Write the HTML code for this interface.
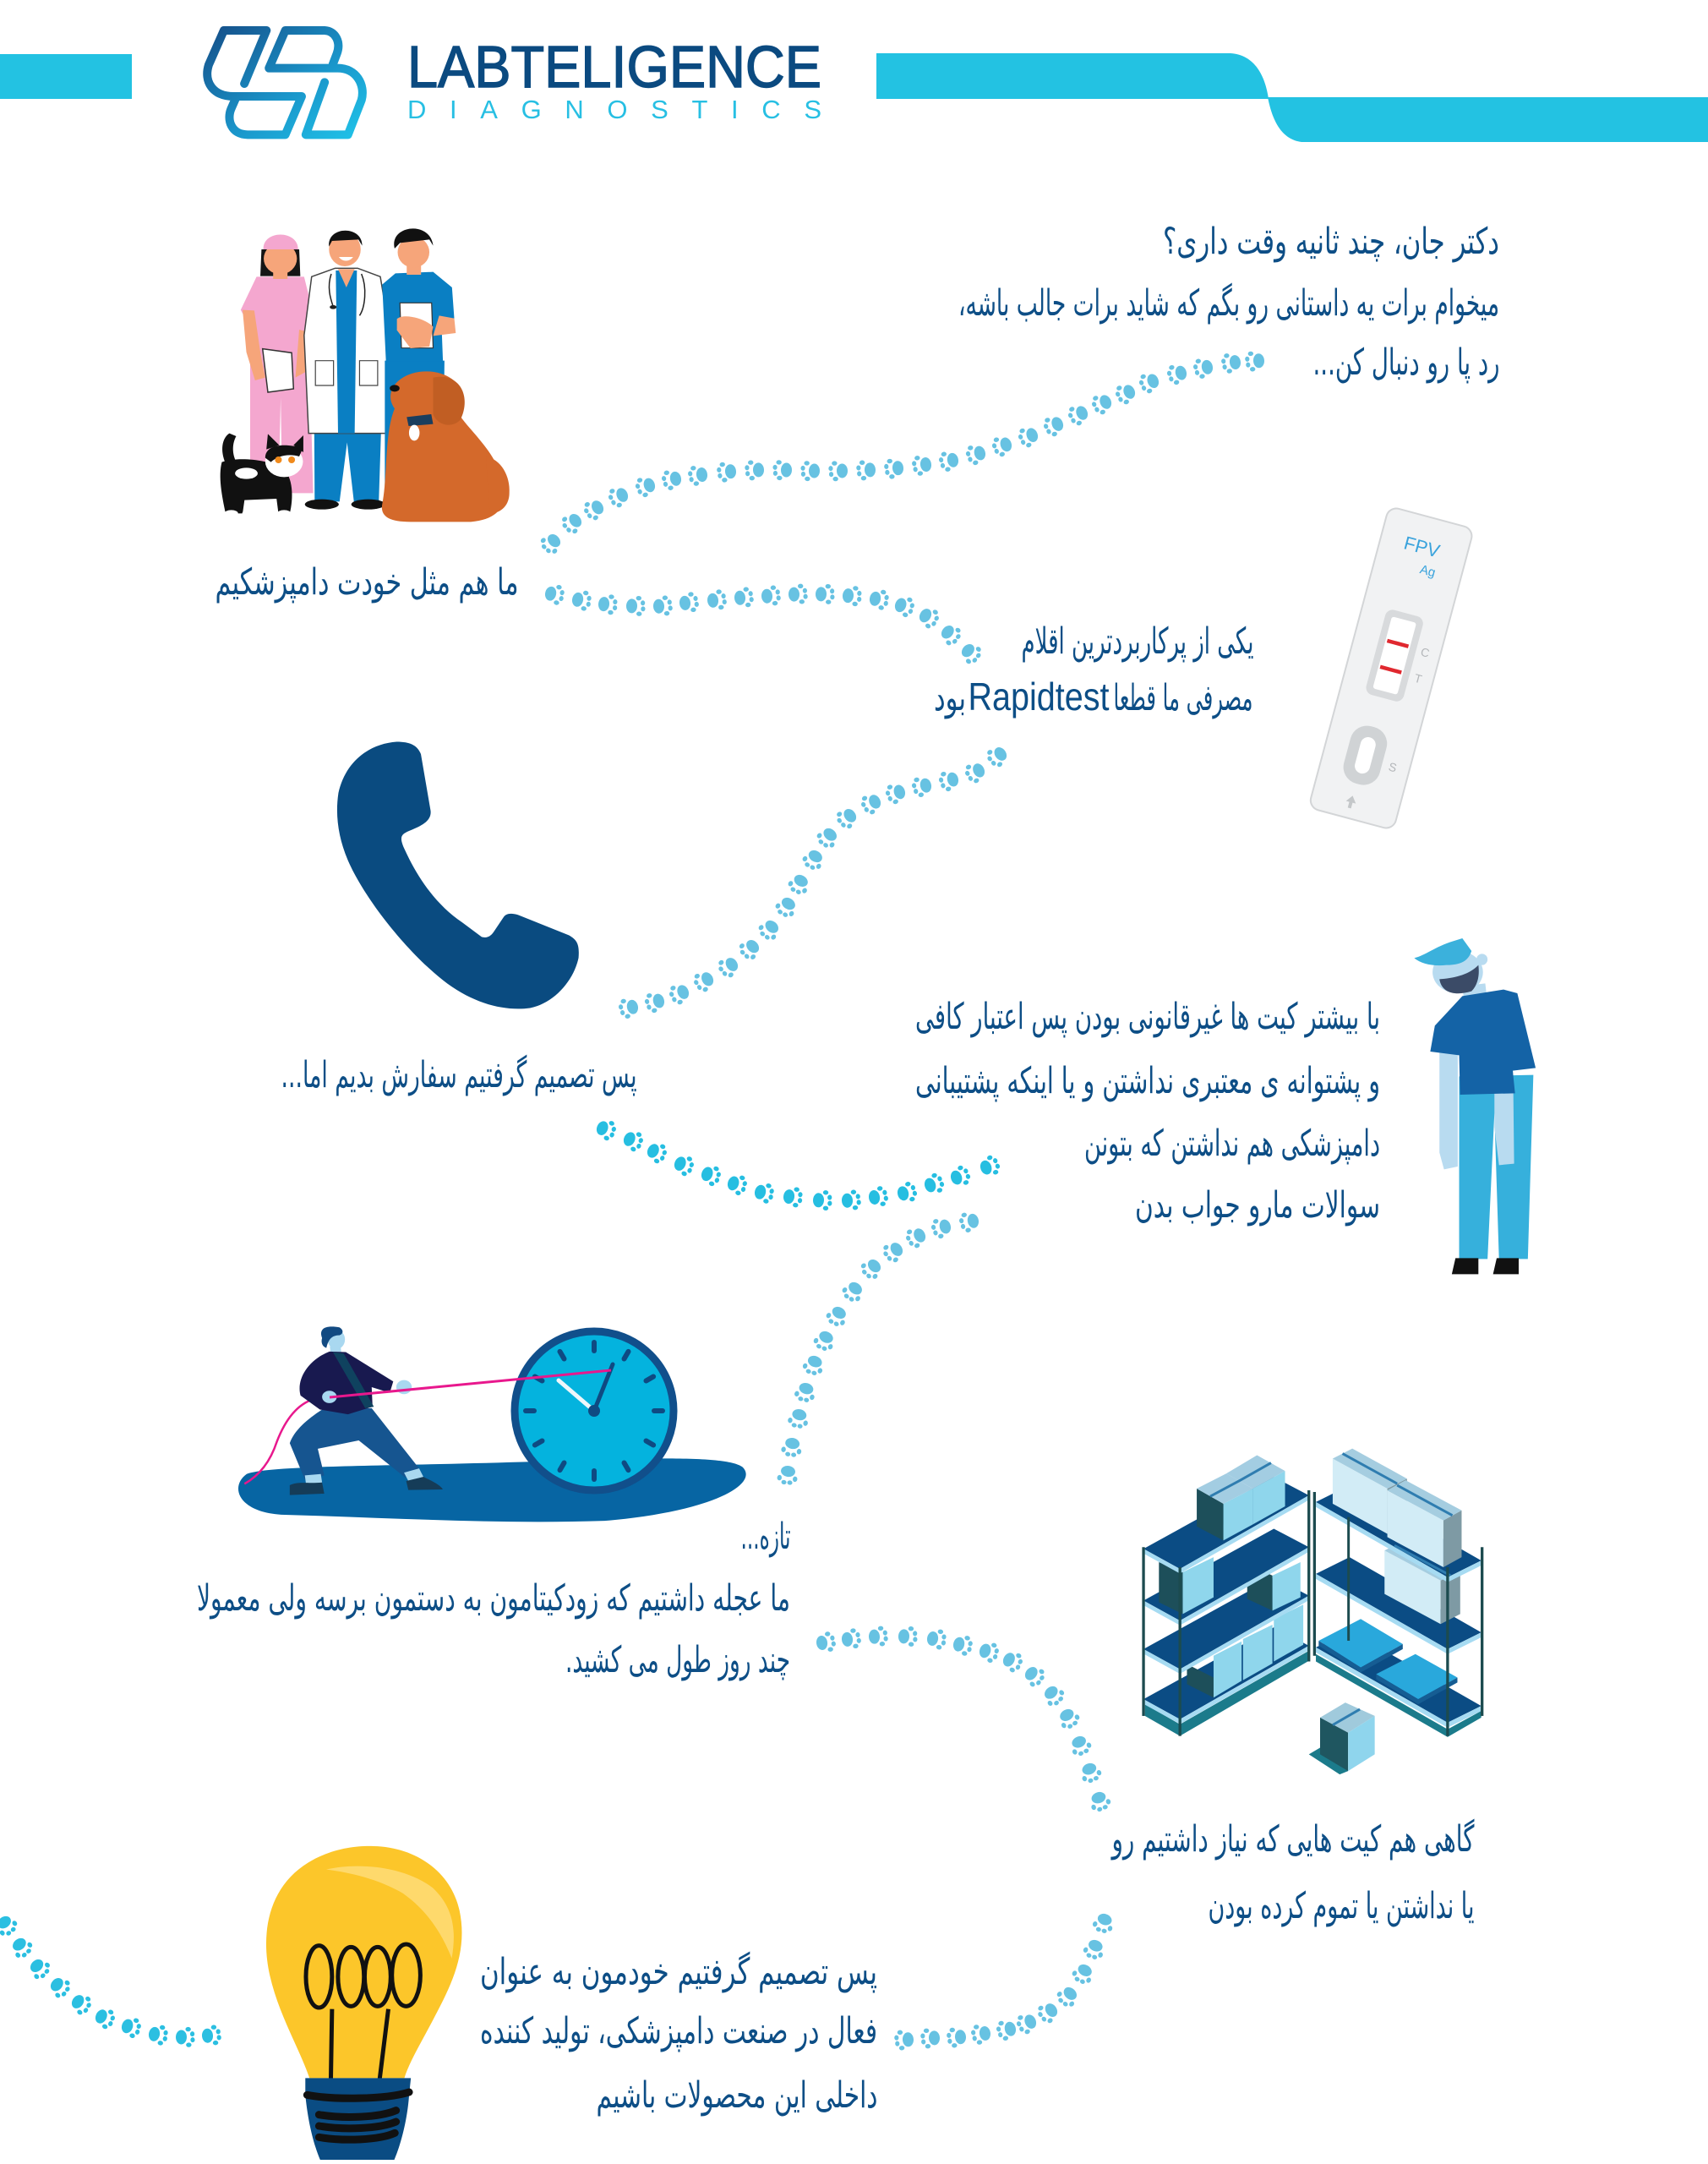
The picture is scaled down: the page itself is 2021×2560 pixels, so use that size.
<!DOCTYPE html>
<html><head><meta charset="utf-8">
<style>
html,body{margin:0;padding:0;background:#fff;}
body{width:2021px;height:2560px;overflow:hidden;}
svg{display:block;}
.fa{font-family:"DejaVu Sans",sans-serif;font-size:43px;fill:#0d4e86;direction:rtl;}
</style></head><body>
<svg width="2021" height="2560" viewBox="0 0 2021 2560" xmlns="http://www.w3.org/2000/svg">
<defs>
<g id="p"><ellipse cx="0" cy="3.5" rx="8.5" ry="6.5"/><ellipse cx="-9.5" cy="-4.5" rx="2.7" ry="3.2"/><ellipse cx="-4" cy="-9.5" rx="3" ry="2.6"/><ellipse cx="3" cy="-10" rx="3" ry="2.6"/><ellipse cx="9" cy="-5.5" rx="2.7" ry="3.2"/></g>
<linearGradient id="lg" gradientUnits="userSpaceOnUse" x1="20" y1="40" x2="420" y2="430"><stop offset="0" stop-color="#154d87"/><stop offset="0.55" stop-color="#1a94c9"/><stop offset="1" stop-color="#20c5ea"/></linearGradient>
</defs>
<rect width="2021" height="2560" fill="#fff"/>

<!-- header bars -->
<rect x="0" y="64" width="156" height="53" fill="#23c2e2"/>
<path d="M1037,63 L1456,63 C1485,65 1497,90 1501,117 L1037,117 Z" fill="#23c2e2"/>
<path d="M1500,115 L2021,115 L2021,168 L1540,168 C1515,165 1505,140 1500,115 Z" fill="#23c2e2"/>

<!-- logo icon -->
<svg x="230" y="20" width="760" height="160" viewBox="0 0 1568 480" preserveAspectRatio="none">
<g fill="none" stroke="url(#lg)" stroke-width="10" stroke-linejoin="round" stroke-linecap="round">
<path vector-effect="non-scaling-stroke" d="M122,237 L176,48 L72,48 L35,170 C22,230 45,282 95,282 L262,282 L222,418 L130,418 C90,418 78,365 90,325 L100,292"/>
<path vector-effect="non-scaling-stroke" d="M318,232 L272,418 L375,418 L408,295 C418,240 395,182 350,182 L182,182 L222,48 L318,48 C345,50 358,90 348,130 L338,168"/>
</g>
</svg>
<text x="727" y="103" font-family="Liberation Sans" font-size="70" fill="#0b4a80" stroke="#0b4a80" stroke-width="1.5" text-anchor="middle" textLength="490" lengthAdjust="spacingAndGlyphs">LABTELIGENCE</text>
<text x="727" y="140" font-family="Liberation Sans" font-size="31" fill="#27bfe3" text-anchor="middle" textLength="490" lengthAdjust="spacing">DIAGNOSTICS</text>

<!-- doctors -->
<svg x="200" y="230" width="700" height="520" viewBox="0 0 1568 1560" preserveAspectRatio="none">
<path d="M245,195 L345,195 L348,290 L242,290 Z" fill="#151515"/>
<path d="M215,555 L372,555 L382,1060 L300,1060 L296,720 L290,1060 L215,1060 Z" fill="#f4a7cf"/>
<path d="M232,292 L358,292 L378,400 L368,560 L220,560 L214,470 L190,410 Z" fill="#f4a7cf"/>
<path d="M195,410 L226,412 L242,560 L255,650 L228,660 L205,560 Z" fill="#f6a57a"/>
<path d="M345,480 L368,488 L362,630 L335,650 Z" fill="#f6a57a"/>
<path d="M248,548 L325,562 L330,690 L262,702 Z" fill="#fff" stroke="#333" stroke-width="1.5" vector-effect="non-scaling-stroke"/>
<rect x="276" y="265" width="38" height="35" fill="#f6a57a"/>
<ellipse cx="295" cy="228" rx="44" ry="55" fill="#f6a57a"/>
<path d="M250,195 C248,125 342,125 342,195 Z" fill="#f4a7cf"/>
<path d="M385,840 L562,840 L556,1090 L490,1090 L472,880 L452,1090 L386,1090 Z" fill="#0a7fc3"/>
<ellipse cx="405" cy="1100" rx="45" ry="18" fill="#111"/>
<ellipse cx="528" cy="1100" rx="45" ry="18" fill="#111"/>
<path d="M378,292 L440,262 L500,262 L560,292 L586,500 L578,848 L370,848 L358,500 Z" fill="#fff" stroke="#444" stroke-width="1.5" vector-effect="non-scaling-stroke"/>
<path d="M442,270 L498,270 L492,848 L448,848 Z" fill="#0a7fc3"/>
<path d="M448,265 L492,265 L470,330 Z" fill="#f6a57a"/>
<path d="M430,282 C418,330 428,370 435,398 M510,282 C525,330 520,400 505,430" fill="none" stroke="#222" stroke-width="1.5" vector-effect="non-scaling-stroke"/>
<ellipse cx="435" cy="400" rx="9" ry="7" fill="#222"/>
<rect x="388" y="590" width="48" height="88" fill="none" stroke="#444" stroke-width="1.2" vector-effect="non-scaling-stroke"/>
<rect x="505" y="590" width="48" height="88" fill="none" stroke="#444" stroke-width="1.2" vector-effect="non-scaling-stroke"/>
<ellipse cx="466" cy="195" rx="42" ry="60" fill="#f6a57a"/>
<path d="M424,185 C418,112 512,108 512,182 L502,160 L432,165 Z" fill="#111"/>
<path d="M450,222 C460,240 478,240 488,222 Z" fill="#fff"/>
<path d="M572,590 L730,590 L726,1082 L572,1082 Z" fill="#0a7fc3"/>
<path d="M600,280 L700,275 L750,330 L756,440 L722,452 L726,592 L575,592 L565,320 Z" fill="#0a7fc3"/>
<path d="M716,430 L756,440 L760,492 L700,502 Z" fill="#f6a57a"/>
<path d="M612,385 L696,385 L700,545 L616,545 Z" fill="#fff" stroke="#333" stroke-width="1.2" vector-effect="non-scaling-stroke"/>
<path d="M604,442 C622,420 680,440 700,470 L690,540 L640,546 L604,482 Z" fill="#f6a57a"/>
<rect x="630" y="250" width="38" height="35" fill="#f6a57a"/>
<ellipse cx="648" cy="205" rx="42" ry="55" fill="#f6a57a"/>
<path d="M598,192 C582,110 692,90 700,182 L690,160 L612,172 Z" fill="#111"/>
<path d="M598,760 C570,850 580,1000 565,1100 C560,1140 580,1162 640,1162 L800,1162 C880,1152 900,1100 880,1000 C860,900 780,820 760,760 Z" fill="#d4692b"/>
<path d="M840,930 C880,940 905,1000 902,1060 C902,1100 882,1132 850,1132 Z" fill="#d4692b"/>
<ellipse cx="682" cy="718" rx="95" ry="90" fill="#d4692b"/>
<path d="M700,650 C772,630 802,720 772,800 C752,830 712,822 700,780 Z" fill="#c15e23"/>
<ellipse cx="598" cy="688" rx="13" ry="12" fill="#111"/>
<path d="M630,790 L695,780 L700,815 L635,822 Z" fill="#1a3e5e"/>
<ellipse cx="650" cy="846" rx="14" ry="28" fill="#fff"/>
<path d="M150,955 C135,910 140,865 160,848 L178,858 C165,890 168,930 182,958 Z" fill="#111"/>
<path d="M140,950 C180,930 260,940 300,970 C330,1000 330,1080 320,1132 L290,1132 L285,1080 L200,1085 L195,1132 L150,1132 C140,1070 130,1000 140,950 Z" fill="#111"/>
<ellipse cx="205" cy="990" rx="30" ry="20" fill="#fff"/>
<ellipse cx="165" cy="1132" rx="18" ry="12" fill="#fff"/><ellipse cx="212" cy="1132" rx="18" ry="12" fill="#fff"/><ellipse cx="268" cy="1132" rx="18" ry="12" fill="#fff"/><ellipse cx="305" cy="1132" rx="18" ry="12" fill="#fff"/>
<ellipse cx="305" cy="948" rx="50" ry="55" fill="#fff"/>
<path d="M255,935 C255,890 300,880 355,900 L345,930 C320,920 290,925 270,950 Z" fill="#111"/>
<path d="M258,905 L262,850 L292,890 Z M330,890 L356,855 L356,915 Z" fill="#111"/>
<ellipse cx="290" cy="942" rx="9" ry="12" fill="#f08a1c"/><ellipse cx="325" cy="942" rx="9" ry="12" fill="#f08a1c"/>
</svg>

<!-- test strip -->
<g transform="translate(1646,791) rotate(15) translate(-52,-185)">
<rect x="0" y="0" width="104" height="369" rx="12" fill="#f1f2f3" stroke="#d3d5d7" stroke-width="2"/>
<text x="50" y="44" font-family="Liberation Sans" font-size="22" fill="#3aa3dc" text-anchor="middle">FPV</text>
<text x="64" y="67" font-family="Liberation Sans" font-size="15" fill="#3aa3dc" text-anchor="middle">Ag</text>
<rect x="29" y="117" width="46" height="104" rx="9" fill="#d8dadc"/>
<rect x="37" y="125" width="30" height="88" rx="3" fill="#fff"/>
<rect x="39" y="152" width="26" height="4.5" fill="#e0282f"/>
<rect x="39" y="184" width="26" height="4.5" fill="#e0282f"/>
<text x="86" y="161" font-family="Liberation Sans" font-size="14" fill="#b4b7ba" text-anchor="middle">C</text>
<text x="86" y="193" font-family="Liberation Sans" font-size="14" fill="#b4b7ba" text-anchor="middle">T</text>
<rect x="27" y="257" width="44" height="70" rx="20" fill="#d0d3d5"/>
<rect x="40" y="270" width="18" height="44" rx="9" fill="#fff"/>
<text x="84" y="302" font-family="Liberation Sans" font-size="14" fill="#b4b7ba" text-anchor="middle">S</text>
<path d="M47,342 L53,350 L49,350 L49,357 L45,357 L45,350 L41,350 Z" fill="#c4c7c9"/>
</g>

<!-- phone -->
<svg x="300" y="850" width="900" height="600" viewBox="0 0 1568 1568" preserveAspectRatio="none">
<path d="M295,72 C325,72 338,85 345,110 L365,285 C368,320 340,335 320,348 C305,358 300,365 310,400 C340,500 380,580 430,630 L470,675 C480,680 488,675 495,660 L515,615 C520,603 530,600 545,607 L650,670 C668,685 672,700 670,740 C660,810 620,880 570,895 C520,905 460,885 400,820 C320,730 230,560 195,440 C175,370 168,300 175,230 C190,130 240,78 295,72 Z" fill="#0a4b80"/>
</svg>

<!-- sad man -->
<svg x="1050" y="1100" width="850" height="420" viewBox="0 0 1568 1260" preserveAspectRatio="none">
<path d="M1248,520 L1410,515 L1398,1168 L1335,1168 L1325,650 L1310,1168 L1248,1168 Z" fill="#36b0dc"/>
<path d="M1240,1165 L1290,1165 L1290,1222 L1232,1222 Z" fill="#111"/>
<path d="M1330,1165 L1378,1165 L1378,1222 L1322,1222 Z" fill="#111"/>
<path d="M1205,430 L1245,430 L1245,840 L1215,850 L1205,790 Z" fill="#b8dbf0"/>
<path d="M1325,390 L1365,395 L1368,830 L1335,835 L1325,700 Z" fill="#b8dbf0"/>
<path d="M1255,200 L1305,190 L1310,260 L1260,270 Z" fill="#b8dbf0"/>
<path d="M1255,235 L1345,212 L1375,225 L1415,490 L1365,500 L1370,580 L1250,585 L1248,445 L1185,432 L1195,340 Z" fill="#1463a6"/>
<ellipse cx="1245" cy="150" rx="55" ry="75" fill="#b8dbf0"/>
<ellipse cx="1298" cy="105" rx="12" ry="20" fill="#b8dbf0"/>
<path d="M1205,175 C1210,225 1240,235 1275,218 C1292,190 1292,150 1290,125 C1270,160 1235,172 1205,175 Z" fill="#3b4b67"/>
<path d="M1150,100 C1175,90 1195,60 1235,40 L1255,30 L1275,75 C1270,100 1260,125 1220,125 C1190,130 1165,120 1150,100 Z" fill="#3bb1dc"/>
</svg>

<!-- clock scene -->
<svg x="200" y="1500" width="800" height="520" viewBox="0 0 1568 1568" preserveAspectRatio="none">
<path d="M180,735 C230,705 470,708 820,692 C1080,680 1290,665 1330,710 C1370,770 1260,870 1010,902 C760,915 500,890 260,880 C160,870 140,780 180,735 Z" fill="#0765a3"/>
<path d="M335,468 C290,490 265,560 250,620 C235,690 210,740 175,770" fill="none" stroke="#e8188d" stroke-width="2.5" vector-effect="non-scaling-stroke"/>
<path d="M355,505 L470,500 L580,715 L548,748 L440,615 L345,645 L360,740 L315,755 L280,625 C290,580 320,540 355,505 Z" fill="#165590"/>
<path d="M315,740 L352,735 L355,765 L318,775 Z M545,730 L580,715 L590,745 L555,760 Z" fill="#a9d8f0"/>
<path d="M280,775 C300,760 320,770 355,765 L360,805 L280,810 Z M550,760 L590,745 C610,760 630,775 635,790 L555,792 Z" fill="#153c58"/>
<path d="M373,280 L398,280 L400,310 L375,310 Z" fill="#a9d8f0"/>
<path d="M372,298 L410,300 L520,405 L512,445 L470,425 L472,495 L415,522 L350,505 L305,455 C295,400 320,330 372,298 Z" fill="#18194f"/>
<path d="M380,300 L405,305 L475,495 L455,500 Z" fill="#0f425f"/>
<ellipse cx="545" cy="425" rx="18" ry="25" fill="#a9d8f0"/>
<ellipse cx="372" cy="460" rx="17" ry="22" fill="#a9d8f0"/>
<ellipse cx="388" cy="255" rx="20" ry="35" fill="#a9d8f0"/>
<path d="M355,250 C345,210 370,205 395,212 C405,220 405,235 395,240 C380,240 370,250 365,285 C355,280 352,265 355,250 Z" fill="#124a82"/>
</svg>
<circle cx="703" cy="1669" r="94" fill="#04b3de" stroke="#114f8b" stroke-width="9"/>
<g transform="translate(703,1669)" stroke="#0f4a82" stroke-width="6" stroke-linecap="round">
<line x1="0" y1="-71" x2="0" y2="-81"/><line x1="35.5" y1="-61.5" x2="40.5" y2="-70.1"/><line x1="61.5" y1="-35.5" x2="70.1" y2="-40.5"/><line x1="71" y1="0" x2="81" y2="0"/><line x1="61.5" y1="35.5" x2="70.1" y2="40.5"/><line x1="35.5" y1="61.5" x2="40.5" y2="70.1"/><line x1="0" y1="71" x2="0" y2="81"/><line x1="-35.5" y1="61.5" x2="-40.5" y2="70.1"/><line x1="-61.5" y1="35.5" x2="-70.1" y2="40.5"/><line x1="-71" y1="0" x2="-81" y2="0"/><line x1="-61.5" y1="-35.5" x2="-70.1" y2="-40.5"/><line x1="-35.5" y1="-61.5" x2="-40.5" y2="-70.1"/>
<line x1="0" y1="0" x2="-42" y2="-36" stroke="#eef7fb" stroke-width="5"/>
<line x1="0" y1="0" x2="22" y2="-55" stroke-width="5"/>
<circle cx="0" cy="0" r="7" fill="#0f4a82" stroke="none"/>
</g>
<line x1="390" y1="1653" x2="723" y2="1621" stroke="#e8188d" stroke-width="3"/>

<!-- shelves -->
<svg x="1300" y="1680" width="520" height="620" viewBox="0 0 1568 1568" preserveAspectRatio="none">
<path d="M165,850 L290,910 L750,690 L750,720 L290,945 L165,885 Z" fill="#1b7b8b"/>
<path d="M775,700 L1245,925 L1365,870 L1365,890 L1245,948 L775,722 Z" fill="#1b7b8b"/>
<path d="M160,835 L290,895 L750,675 L625,620 Z" fill="#0b4c84"/>
<path d="M160,835 L290,895 L750,675 L750,689 L290,909 L160,849 Z" fill="#a6dbf2"/>
<path d="M315,730 L410,770 L410,830 L315,790 Z" fill="#1d4f5a"/>
<path d="M410,705 L510,662 L510,780 L410,830 Z" fill="#8fd6ec"/>
<path d="M515,655 L620,612 L620,728 L515,778 Z" fill="#8fd6ec"/>
<path d="M625,595 L730,552 L730,672 L625,722 Z" fill="#8fd6ec"/>
<path d="M160,685 L290,745 L750,525 L625,470 Z" fill="#0b4c84"/>
<path d="M160,685 L290,745 L750,525 L750,539 L290,759 L160,699 Z" fill="#a6dbf2"/>
<path d="M530,430 L620,465 L620,570 L530,535 Z" fill="#1d4f5a"/>
<path d="M620,465 L720,425 L720,530 L620,570 Z" fill="#8fd6ec"/>
<path d="M160,540 L290,600 L750,380 L625,325 Z" fill="#0b4c84"/>
<path d="M160,540 L290,600 L750,380 L750,394 L290,614 L160,554 Z" fill="#a6dbf2"/>
<path d="M215,425 L300,455 L300,580 L215,545 Z" fill="#1d4f5a"/>
<path d="M300,455 L410,410 L410,530 L300,580 Z" fill="#8fd6ec"/>
<path d="M160,385 L290,445 L750,225 L625,170 Z" fill="#0b4c84"/>
<path d="M160,385 L290,445 L750,225 L750,239 L290,459 L160,399 Z" fill="#a6dbf2"/>
<path d="M350,205 L445,250 L445,360 L350,318 Z" fill="#1d4f5a"/>
<path d="M445,250 L550,205 L550,312 L445,360 Z" fill="#8fd6ec"/>
<path d="M350,205 L455,160 L550,205 L445,250 Z" fill="#a3cde2"/>
<path d="M550,205 L665,152 L665,258 L550,312 Z" fill="#8fd6ec"/>
<path d="M455,160 L565,105 L665,152 L550,205 Z" fill="#a3cde2"/>
<path d="M398,228 L505,180 M505,180 L615,128" stroke="#2f7db0" stroke-width="3" vector-effect="non-scaling-stroke"/>
<rect x="155" y="380" width="10" height="505" fill="#1c4b4f"/>
<rect x="285" y="440" width="10" height="505" fill="#1c4b4f"/>
<rect x="745" y="210" width="10" height="512" fill="#1c4b4f"/>
<path d="M775,680 L895,630 L1365,855 L1245,905 Z" fill="#0b4c84"/>
<path d="M775,680 L1245,905 L1365,855 L1365,870 L1245,920 L775,695 Z" fill="#a6dbf2"/>
<path d="M785,660 L935,595 L1085,670 L935,740 Z" fill="#29a8dc"/>
<path d="M785,660 L935,740 L1085,670 L1085,685 L935,755 L785,675 Z" fill="#165d93"/>
<path d="M990,760 L1130,700 L1280,770 L1140,835 Z" fill="#29a8dc"/>
<path d="M990,760 L1140,835 L1280,770 L1280,785 L1140,850 L990,775 Z" fill="#165d93"/>
<path d="M775,460 L895,410 L1365,635 L1245,685 Z" fill="#0b4c84"/>
<path d="M775,460 L1245,685 L1365,635 L1365,650 L1245,700 L775,475 Z" fill="#a6dbf2"/>
<path d="M1020,520 L1220,610 L1220,480 L1020,390 Z" fill="#d2ecf6"/>
<path d="M1220,610 L1290,580 L1290,450 L1220,480 Z" fill="#7e9aa4"/>
<path d="M1020,390 L1220,480 L1290,450 L1090,360 Z" fill="#a5cde0"/>
<path d="M775,245 L895,195 L1365,420 L1245,470 Z" fill="#0b4c84"/>
<path d="M775,245 L1245,470 L1365,420 L1365,435 L1245,485 L775,260 Z" fill="#a6dbf2"/>
<path d="M835,250 L1030,340 L1030,205 L835,115 Z" fill="#d2ecf6"/>
<path d="M1030,340 L1100,310 L1100,175 L1030,205 Z" fill="#7e9aa4"/>
<path d="M835,115 L1030,205 L1100,175 L905,85 Z" fill="#a5cde0"/>
<path d="M1030,350 L1230,440 L1230,300 L1030,210 Z" fill="#d2ecf6"/>
<path d="M1230,440 L1295,410 L1295,270 L1230,300 Z" fill="#7e9aa4"/>
<path d="M1030,210 L1230,300 L1295,270 L1095,180 Z" fill="#a5cde0"/>
<path d="M870,100 L1065,190 M1065,195 L1262,285 M1055,375 L1255,465" stroke="#2f7db0" stroke-width="3" vector-effect="non-scaling-stroke"/>
<rect x="765" y="215" width="10" height="490" fill="#1c4b4f"/>
<rect x="887" y="290" width="9" height="370" fill="#1c4b4f"/>
<rect x="1240" y="440" width="10" height="505" fill="#1c4b4f"/>
<rect x="1363" y="380" width="10" height="505" fill="#1c4b4f"/>
<path d="M750,1000 L790,980 L890,1050 L860,1060 Z" fill="#1b7b8b"/>
<path d="M790,890 L880,845 L985,885 L890,935 Z" fill="#a0cadc"/>
<path d="M790,890 L890,935 L890,1050 L790,1000 Z" fill="#1f5660"/>
<path d="M890,935 L985,885 L985,1000 L890,1050 Z" fill="#8fd5ed"/>
<path d="M835,912 L932,865" stroke="#2f7db0" stroke-width="3" vector-effect="non-scaling-stroke"/>
</svg>

<!-- bulb -->
<svg x="0" y="2150" width="1100" height="410" viewBox="0 0 1568 1230" preserveAspectRatio="none">
<path d="M522,925 C505,820 470,700 455,560 C440,420 450,250 520,160 C560,110 600,100 630,102 C700,105 760,190 775,330 C790,480 760,600 730,720 C710,800 690,870 682,925 Z" fill="#fcc62a"/>
<path d="M550,185 C600,160 680,170 730,250 C765,320 770,400 762,500 C745,410 720,330 680,270 C640,220 590,195 550,185 Z" fill="#fed96c"/>
<g fill="none" stroke="#111" stroke-width="5">
<path vector-effect="non-scaling-stroke" d="M558,935 L560,680 M640,935 L655,680"/>
<ellipse vector-effect="non-scaling-stroke" cx="538" cy="565" rx="22" ry="110"/>
<ellipse vector-effect="non-scaling-stroke" cx="592" cy="565" rx="22" ry="105"/>
<ellipse vector-effect="non-scaling-stroke" cx="637" cy="565" rx="22" ry="105"/>
<ellipse vector-effect="non-scaling-stroke" cx="685" cy="560" rx="24" ry="110"/>
</g>
<path d="M515,925 L693,925 L690,985 C688,1050 680,1140 665,1215 L540,1215 C525,1140 518,1050 515,985 Z" fill="#0a4c83"/>
<g fill="none" stroke="#111" stroke-width="9" stroke-linecap="round">
<path vector-effect="non-scaling-stroke" d="M518,985 C560,1002 650,1002 690,975"/>
<path vector-effect="non-scaling-stroke" d="M538,1055 C580,1070 640,1065 668,1040"/>
<path vector-effect="non-scaling-stroke" d="M538,1095 C580,1110 640,1105 668,1080"/>
<path vector-effect="non-scaling-stroke" d="M538,1135 C580,1150 640,1145 666,1120"/>
</g>
</svg>

<!-- paw trails -->
<g class="trail" fill="#67c2e2">
<use href="#p" x="1486" y="427"/><use href="#p" x="1458" y="429"/><use href="#p" x="1425" y="435"/><use href="#p" x="1394" y="442"/><use href="#p" x="1361" y="452"/><use href="#p" x="1333" y="465"/><use href="#p" x="1305" y="477"/><use href="#p" x="1277" y="490"/><use href="#p" x="1248" y="503"/><use href="#p" x="1218" y="516"/><use href="#p" x="1187" y="527"/><use href="#p" x="1156" y="537"/><use href="#p" x="1124" y="545"/><use href="#p" x="1092" y="550"/><use href="#p" x="1059" y="554"/><use href="#p" x="1026" y="556"/><use href="#p" x="993" y="557"/><use href="#p" x="960" y="557"/><use href="#p" x="927" y="556"/><use href="#p" x="894" y="556"/><use href="#p" x="861" y="558"/><use href="#p" x="827" y="562"/><use href="#p" x="796" y="567"/><use href="#p" x="765" y="575"/><use href="#p" x="733" y="587"/><use href="#p" x="704" y="602"/><use href="#p" x="678" y="618"/><use href="#p" x="653" y="642"/>
</g>
<g class="trail" fill="#67c2e2">
<use href="#p" x="655" y="703"/><use href="#p" x="687" y="710"/><use href="#p" x="718" y="715"/><use href="#p" x="751" y="717"/><use href="#p" x="783" y="717"/><use href="#p" x="814" y="713"/><use href="#p" x="847" y="710"/><use href="#p" x="879" y="707"/><use href="#p" x="911" y="705"/><use href="#p" x="943" y="703"/><use href="#p" x="975" y="703"/><use href="#p" x="1007" y="705"/><use href="#p" x="1039" y="709"/><use href="#p" x="1069" y="717"/><use href="#p" x="1098" y="730"/><use href="#p" x="1124" y="750"/><use href="#p" x="1148" y="772"/>
</g>
<g class="trail" fill="#67c2e2">
<use href="#p" x="1181" y="894"/><use href="#p" x="1155" y="913"/><use href="#p" x="1124" y="923"/><use href="#p" x="1092" y="930"/><use href="#p" x="1061" y="938"/><use href="#p" x="1032" y="950"/><use href="#p" x="1003" y="967"/><use href="#p" x="980" y="990"/><use href="#p" x="963" y="1016"/><use href="#p" x="946" y="1045"/><use href="#p" x="931" y="1072"/><use href="#p" x="911" y="1099"/><use href="#p" x="888" y="1122"/><use href="#p" x="863" y="1143"/><use href="#p" x="834" y="1160"/><use href="#p" x="805" y="1175"/><use href="#p" x="776" y="1185"/><use href="#p" x="745" y="1192"/>
</g>
<g class="trail" fill="#26bee1">
<use href="#p" x="716" y="1336"/><use href="#p" x="748" y="1349"/><use href="#p" x="776" y="1363"/><use href="#p" x="808" y="1378"/><use href="#p" x="840" y="1390"/><use href="#p" x="871" y="1401"/><use href="#p" x="903" y="1411"/><use href="#p" x="937" y="1416"/><use href="#p" x="972" y="1420"/><use href="#p" x="1006" y="1420"/><use href="#p" x="1038" y="1416"/><use href="#p" x="1072" y="1411"/><use href="#p" x="1104" y="1401"/><use href="#p" x="1135" y="1392"/><use href="#p" x="1170" y="1380"/>
</g>
<g class="trail" fill="#67c2e2">
<use href="#p" x="1148" y="1445"/><use href="#p" x="1115" y="1452"/><use href="#p" x="1085" y="1463"/><use href="#p" x="1058" y="1480"/><use href="#p" x="1032" y="1500"/><use href="#p" x="1010" y="1527"/><use href="#p" x="991" y="1556"/><use href="#p" x="976" y="1585"/><use href="#p" x="963" y="1614"/><use href="#p" x="953" y="1646"/><use href="#p" x="945" y="1677"/><use href="#p" x="937" y="1711"/><use href="#p" x="932" y="1744"/>
</g>
<g class="trail" fill="#67c2e2">
<use href="#p" x="976" y="1943"/><use href="#p" x="1006" y="1939"/><use href="#p" x="1038" y="1936"/><use href="#p" x="1073" y="1936"/><use href="#p" x="1107" y="1939"/><use href="#p" x="1138" y="1946"/><use href="#p" x="1169" y="1954"/><use href="#p" x="1197" y="1965"/><use href="#p" x="1223" y="1982"/><use href="#p" x="1246" y="2005"/><use href="#p" x="1264" y="2032"/><use href="#p" x="1278" y="2064"/><use href="#p" x="1290" y="2096"/><use href="#p" x="1301" y="2130"/>
</g>
<g class="trail" fill="#67c2e2">
<use href="#p" x="1306" y="2274"/><use href="#p" x="1295" y="2305"/><use href="#p" x="1282" y="2334"/><use href="#p" x="1264" y="2361"/><use href="#p" x="1241" y="2380"/><use href="#p" x="1216" y="2393"/><use href="#p" x="1192" y="2401"/><use href="#p" x="1162" y="2406"/><use href="#p" x="1133" y="2410"/><use href="#p" x="1102" y="2411"/><use href="#p" x="1071" y="2413"/>
</g>
<g class="trail" fill="#2bbfe1">
<use href="#p" x="7" y="2277"/><use href="#p" x="25" y="2303"/><use href="#p" x="46" y="2328"/><use href="#p" x="70" y="2350"/><use href="#p" x="95" y="2370"/><use href="#p" x="123" y="2387"/><use href="#p" x="154" y="2398"/><use href="#p" x="186" y="2407"/><use href="#p" x="218" y="2410"/><use href="#p" x="249" y="2408"/>
</g>

<!-- texts -->
<text class="fa" x="1575" y="300" text-anchor="middle" textLength="398" lengthAdjust="spacingAndGlyphs">دکتر جان، چند ثانیه وقت داری؟</text>
<text class="fa" x="1454" y="373" text-anchor="middle" textLength="640" lengthAdjust="spacingAndGlyphs">میخوام برات یه داستانی رو بگم که شاید برات جالب باشه،</text>
<text class="fa" x="1664" y="443" text-anchor="middle" textLength="221" lengthAdjust="spacingAndGlyphs">رد پا رو دنبال کن...</text>
<text class="fa" x="434" y="703" text-anchor="middle" textLength="359" lengthAdjust="spacingAndGlyphs">ما هم مثل خودت دامپزشکیم</text>
<text class="fa" x="1346" y="773" text-anchor="middle" textLength="275" lengthAdjust="spacingAndGlyphs">یکی از پرکاربردترین اقلام</text>
<text class="fa" x="1400" y="840" text-anchor="middle" textLength="165" lengthAdjust="spacingAndGlyphs">مصرفی ما قطعا</text>
<text x="1229" y="840" font-family="Liberation Sans" font-size="46" fill="#0d4e86" text-anchor="middle" textLength="167" lengthAdjust="spacingAndGlyphs">Rapidtest</text>
<text class="fa" x="1124" y="840" text-anchor="middle" textLength="38" lengthAdjust="spacingAndGlyphs">بود</text>
<text class="fa" x="543" y="1286" text-anchor="middle" textLength="421" lengthAdjust="spacingAndGlyphs">پس تصمیم گرفتیم سفارش بدیم اما...</text>
<text class="fa" x="1358" y="1217" text-anchor="middle" textLength="550" lengthAdjust="spacingAndGlyphs">با بیشتر کیت ها غیرقانونی بودن پس اعتبار کافی</text>
<text class="fa" x="1358" y="1293" text-anchor="middle" textLength="550" lengthAdjust="spacingAndGlyphs">و پشتوانه ی معتبری نداشتن و یا اینکه پشتیبانی</text>
<text class="fa" x="1458" y="1367" text-anchor="middle" textLength="350" lengthAdjust="spacingAndGlyphs">دامپزشکی هم نداشتن که بتونن</text>
<text class="fa" x="1488" y="1440" text-anchor="middle" textLength="290" lengthAdjust="spacingAndGlyphs">سوالات مارو جواب بدن</text>
<text class="fa" x="906" y="1832" text-anchor="middle" textLength="59" lengthAdjust="spacingAndGlyphs">تازه...</text>
<text class="fa" x="584" y="1905" text-anchor="middle" textLength="702" lengthAdjust="spacingAndGlyphs">ما عجله داشتیم که زودکیتامون به دستمون برسه ولی معمولا</text>
<text class="fa" x="802" y="1978" text-anchor="middle" textLength="266" lengthAdjust="spacingAndGlyphs">چند روز طول می کشید.</text>
<text class="fa" x="1530" y="2190" text-anchor="middle" textLength="429" lengthAdjust="spacingAndGlyphs">گاهی هم کیت هایی که نیاز داشتیم رو</text>
<text class="fa" x="1587" y="2269" text-anchor="middle" textLength="315" lengthAdjust="spacingAndGlyphs">یا نداشتن یا تموم کرده بودن</text>
<text class="fa" x="803" y="2347" text-anchor="middle" textLength="470" lengthAdjust="spacingAndGlyphs">پس تصمیم گرفتیم خودمون به عنوان</text>
<text class="fa" x="803" y="2417" text-anchor="middle" textLength="470" lengthAdjust="spacingAndGlyphs">فعال در صنعت دامپزشکی، تولید کننده</text>
<text class="fa" x="872" y="2493" text-anchor="middle" textLength="333" lengthAdjust="spacingAndGlyphs">داخلی این محصولات باشیم</text>
</svg>
<script>
document.querySelectorAll('g.trail').forEach(function(g){
  var u=Array.prototype.slice.call(g.querySelectorAll('use'));
  var pts=u.map(function(e){return [+e.getAttribute('x'),+e.getAttribute('y')];});
  u.forEach(function(e,i){
    var a=pts[Math.max(0,i-1)],b=pts[Math.min(pts.length-1,i+1)];
    var ang=Math.atan2(b[0]-a[0],-(b[1]-a[1]))*180/Math.PI;
    e.setAttribute('transform','rotate('+ang.toFixed(1)+' '+pts[i][0]+' '+pts[i][1]+')');
  });
});
</script>
</body></html>
